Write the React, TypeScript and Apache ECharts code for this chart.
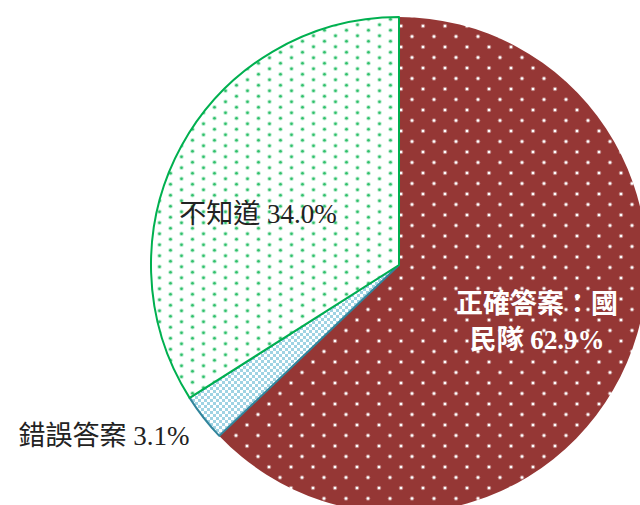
import React, { useEffect, useRef } from "react";
import * as echarts from "echarts";

const categories = ["正確答案：國民隊", "錯誤答案", "不知道"];
const labelNames = ["正確答案：國\n民隊", "錯誤答案", "不知道"];
const values = [62.9, 3.1, 34.0];

function makeTile(
  w: number,
  h: number,
  draw: (ctx: CanvasRenderingContext2D) => void
) {
  const c = document.createElement("canvas");
  c.width = w;
  c.height = h;
  const ctx = c.getContext("2d") as CanvasRenderingContext2D;
  draw(ctx);
  return { image: c, repeat: "repeat", imageWidth: w, imageHeight: h } as any;
}

function dot(ctx: CanvasRenderingContext2D, x: number, y: number, r: number, color: string, halo: string) {
  ctx.fillStyle = halo;
  ctx.beginPath();
  ctx.arc(x, y, r + 1, 0, Math.PI * 2);
  ctx.fill();
  ctx.fillStyle = color;
  ctx.beginPath();
  ctx.arc(x, y, r, 0, Math.PI * 2);
  ctx.fill();
}

export default function App() {
  const ref = useRef<HTMLDivElement>(null);
  useEffect(() => {
    if (!ref.current) return;
    const chart = echarts.init(ref.current, undefined, { renderer: "svg" });

    const redPattern = makeTile(22, 21, (ctx) => {
      ctx.fillStyle = "#953735";
      ctx.fillRect(0, 0, 22, 21);
      dot(ctx, 5, 5, 1.3, "#ffffff", "rgba(255,255,255,0.35)");
      dot(ctx, 16, 15.5, 1.3, "#ffffff", "rgba(255,255,255,0.35)");
    });
    const greenPattern = makeTile(22, 11, (ctx) => {
      ctx.fillStyle = "#ffffff";
      ctx.fillRect(0, 0, 22, 11);
      dot(ctx, 5.5, 2.75, 1.3, "#2fbf6a", "rgba(60,200,120,0.35)");
      dot(ctx, 16.5, 8.25, 1.3, "#2fbf6a", "rgba(60,200,120,0.35)");
    });
    const bluePattern = makeTile(6, 6, (ctx) => {
      ctx.fillStyle = "#9fd3e3";
      ctx.fillRect(0, 0, 6, 6);
      ctx.fillStyle = "#ffffff";
      ctx.fillRect(0, 0, 3, 3);
      ctx.fillRect(3, 3, 3, 3);
    });

    const styles = [
      { color: redPattern, borderColor: "#953735", borderWidth: 0 },
      { color: bluePattern, borderColor: "#31859c", borderWidth: 2 },
      { color: greenPattern, borderColor: "#00b050", borderWidth: 2 },
    ];
    const labelStyles = [
      { color: "#ffffff", fontWeight: "bold" },
      { color: "#222222", fontWeight: "normal" },
      { color: "#222222", fontWeight: "normal" },
    ];
    const labelPos = [
      { x: 537, y: 322 },
      { x: 104, y: 436 },
      { x: 258, y: 214 },
    ];

    chart.setOption({
      animation: false,
      backgroundColor: "#ffffff",
      series: [
        {
          type: "pie",
          center: [399, 265],
          radius: [0, 248],
          startAngle: 90,
          clockwise: true,
          avoidLabelOverlap: false,
          label: {
            show: true,
            position: "inside",
            fontSize: 27,
            lineHeight: 36,
            fontFamily: "'Liberation Serif', 'Noto Sans CJK TC', serif",
            align: "center",
            formatter: (p: any) =>
              `${labelNames[p.dataIndex]} ${Number(p.value).toFixed(1)}%`,
          },
          labelLine: { show: false },
          labelLayout: (p: any) => ({
            x: labelPos[p.dataIndex].x,
            y: labelPos[p.dataIndex].y,
            align: "center",
            verticalAlign: "middle",
          }),
          emphasis: { disabled: true },
          data: categories.map((name, i) => ({
            name,
            value: values[i],
            itemStyle: styles[i],
            label: labelStyles[i],
          })),
        },
      ],
    });
    return () => chart.dispose();
  }, []);
  return (
    <div
      ref={ref}
      style={{ position: "fixed", left: 0, top: 0, width: 640, height: 505 }}
    />
  );
}
